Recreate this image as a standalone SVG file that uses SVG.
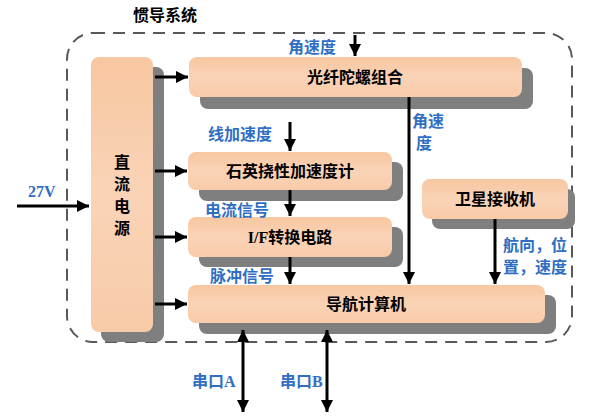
<svg xmlns="http://www.w3.org/2000/svg" width="590" height="417" viewBox="0 0 590 417">
<defs>
<linearGradient id="peach" x1="0" y1="0" x2="0" y2="1">
<stop offset="0" stop-color="#F7C7A0"/>
<stop offset="0.5" stop-color="#FAD3B7"/>
<stop offset="1" stop-color="#F8CBA8"/>
</linearGradient>
<marker id="ah" viewBox="0 0 10 10" refX="10" refY="5" markerWidth="4" markerHeight="4" orient="auto-start-reverse" markerUnits="strokeWidth">
<path d="M0,0 L10,5 L0,10 Z" fill="#000"/>
</marker>
<style>
.box{fill:url(#peach);}
.sh{fill:#7F7F7F;}
.nt{font-family:"Noto Sans CJK SC","Liberation Sans",sans-serif;font-weight:bold;font-size:16px;fill:#000;text-anchor:middle;}
.lb{font-family:"Noto Sans CJK SC","Liberation Sans",sans-serif;font-weight:bold;font-size:16px;fill:#2F6EC3;}
.ser{font-family:"Liberation Serif","Noto Sans CJK SC",serif;font-weight:bold;}
.ln{stroke:#000;stroke-width:3;fill:none;marker-end:url(#ah);}
.dl{stroke:#000;stroke-width:3;fill:none;marker-end:url(#ah);marker-start:url(#ah);}
</style>
</defs>
<rect width="590" height="417" fill="#fff"/>
<text x="165" y="21" class="nt">惯导系统</text>
<rect x="67" y="33" width="505" height="309" rx="26" fill="none" stroke="#595959" stroke-width="2" stroke-dasharray="12 8"/>

<g id="power">
<rect class="sh" x="101" y="67" width="63" height="275" rx="8"/>
<rect class="box" x="91" y="57" width="62" height="275" rx="8"/>
<text class="nt" x="122" y="168">直</text>
<text class="nt" x="122" y="190">流</text>
<text class="nt" x="122" y="212">电</text>
<text class="nt" x="122" y="234">源</text>
</g>
<g id="gyro">
<rect class="sh" x="200" y="68" width="333" height="41" rx="8"/>
<rect class="box" x="189" y="57" width="333" height="40" rx="8"/>
<text class="nt" x="355" y="83">光纤陀螺组合</text>
</g>
<g id="accel">
<rect class="sh" x="199" y="162" width="204" height="39" rx="8"/>
<rect class="box" x="188" y="152" width="204" height="38" rx="8"/>
<text class="nt" x="290" y="177">石英挠性加速度计</text>
</g>
<g id="if">
<rect class="sh" x="199" y="227" width="204" height="40" rx="8"/>
<rect class="box" x="188" y="217" width="204" height="40" rx="8"/>
<text class="nt" x="290" y="243"><tspan class="ser">I/F</tspan>转换电路</text>
</g>
<g id="gps">
<rect class="sh" x="432" y="189" width="143" height="40" rx="8"/>
<rect class="box" x="422" y="179" width="146" height="40" rx="8"/>
<text class="nt" x="495" y="205">卫星接收机</text>
</g>
<g id="nav">
<rect class="sh" x="199" y="295" width="357" height="39" rx="8"/>
<rect class="box" x="188" y="285" width="357" height="38" rx="8"/>
<text class="nt" x="366" y="310">导航计算机</text>
</g>

<g id="connectors">
<line class="ln" x1="17" y1="206" x2="89" y2="206"/>
<line class="ln" x1="155" y1="77" x2="188" y2="77"/>
<line class="ln" x1="155" y1="171" x2="187" y2="171"/>
<line class="ln" x1="155" y1="237" x2="187" y2="237"/>
<line class="ln" x1="155" y1="304" x2="187" y2="304"/>
<line class="ln" x1="355" y1="35" x2="355" y2="56"/>
<line class="ln" x1="409" y1="97" x2="409" y2="284"/>
<line class="ln" x1="290" y1="122" x2="290" y2="151"/>
<line class="ln" x1="290" y1="190" x2="290" y2="216"/>
<line class="ln" x1="290" y1="257" x2="290" y2="284"/>
<line class="ln" x1="495" y1="219" x2="495" y2="284"/>
<line class="dl" x1="243" y1="330" x2="243" y2="412"/>
<line class="dl" x1="327" y1="330" x2="327" y2="412"/>
</g>

<g id="labels">
<text class="lb ser" x="28" y="197" font-size="15">27V</text>
<text class="lb" x="288" y="53">角速度</text>
<text class="lb" x="412" y="127">角速</text>
<text class="lb" x="416" y="149">度</text>
<text class="lb" x="208" y="140">线加速度</text>
<text class="lb" x="205" y="216">电流信号</text>
<text class="lb" x="210" y="282">脉冲信号</text>
<text class="lb" x="503" y="251">航向，位</text>
<text class="lb" x="503" y="273">置，速度</text>
<text class="lb" x="192" y="387">串口<tspan class="ser">A</tspan></text>
<text class="lb" x="280" y="387">串口<tspan class="ser">B</tspan></text>
</g>
</svg>
